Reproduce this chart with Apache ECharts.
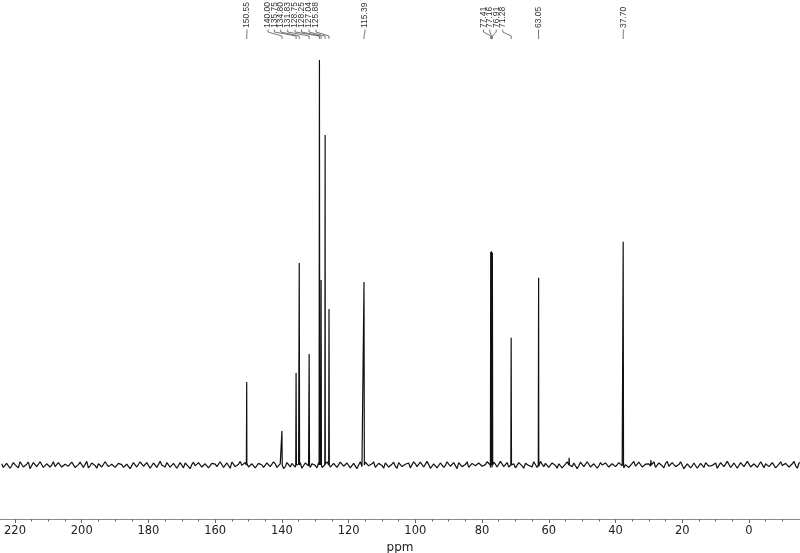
<!DOCTYPE html>
<html>
<head>
<meta charset="utf-8">
<title>13C NMR spectrum</title>
<script src="https://cdn.jsdelivr.net/npm/echarts@6/dist/echarts.min.js"></script>
<style>
  html, body { margin: 0; padding: 0; background: #fff; }
  #chart { width: 800px; height: 553px; }
</style>
</head>
<body>
<div id="chart"></div>
<script>
// peak shifts (ppm) and heights (tallest peak = 100)
var peakPpm = [150.55, 140.00, 135.75, 134.80, 131.83, 128.75, 128.25, 127.04, 125.88, 115.39,
  77.41, 77.16, 76.91, 71.28, 63.05, 53.9, 37.70, 29.4];
var peakHeight = [20.5, 8.4, 22.7, 49.9, 27.4, 100, 45.7, 81.5, 38.5, 45.2,
  52.6, 52.8, 52.4, 31.4, 46.2, 1.8, 55.1, 1.2];

// peaks that carry a label at the top
var labelPpm = [150.55, 140.00, 135.75, 134.80, 131.83, 128.75, 128.25, 127.04, 125.88, 115.39,
  77.41, 77.16, 76.91, 71.28, 63.05, 37.70];
var labelText = ["150.55", "140.00", "135.75", "134.80", "131.83", "128.75", "128.25", "127.04", "125.88", "115.39",
  "77.41", "77.16", "76.91", "71.28", "63.05", "37.70"];

// baseline noise: one value per whole ppm from 224 down to -15 ...
var noiseStart = 224;
var noise = [
  0.3,-0.5,0.6,-0.2,0.1,-0.7,0.4,-0.3,0.7,-0.6,0.2,-0.1,0.5,-0.8,0.3,0.0,-0.4,0.6,-0.5,0.2,
  -0.3,0.7,-0.6,0.1,0.4,-0.2,-0.7,0.5,-0.1,0.3,-0.5,0.8,-0.4,0.2,-0.6,0.4,0.1,-0.3,0.6,-0.7,
  0.2,-0.4,0.5,-0.1,0.3,-0.6,0.7,-0.2,0.0,-0.5,0.4,-0.3,0.6,-0.8,0.2,0.5,-0.4,0.1,-0.2,0.6,
  -0.5,0.3,-0.7,0.4,0.2,-0.3,0.5,-0.6,0.1,0.7,-0.4,0.2,-0.1,0.6,-0.5,0.3,-0.7,0.4,0.0,-0.3,
  0.5,-0.2,0.3,-0.6,0.7,-0.4,0.1,0.4,-0.5,0.2,-0.8,0.5,-0.2,0.3,-0.1,0.6,-0.6,0.2,0.4,-0.4,
  0.1,-0.5,0.6,-0.3,0.2,-0.7,0.5,0.0,-0.4,0.7,-0.2,0.3,-0.6,0.4,-0.1,0.5,-0.5,0.2,-0.3,0.6,
  -0.4,0.2,0.5,-0.6,0.3,-0.2,0.7,-0.5,0.1,-0.3,0.4,-0.7,0.6,-0.1,0.2,-0.5,0.3,0.6,-0.4,0.1,
  -0.6,0.4,-0.2,0.5,-0.3,0.1,0.7,-0.6,0.2,-0.4,0.5,0.0,-0.5,0.3,-0.7,0.6,-0.2,0.4,-0.1,-0.5,
  0.6,-0.3,0.2,0.4,-0.6,0.5,-0.1,0.3,-0.7,0.2,0.6,-0.4,0.1,-0.2,0.5,-0.6,0.4,-0.3,0.7,-0.2,
  0.0,0.5,-0.5,0.3,-0.4,0.6,-0.2,0.1,-0.6,0.4,-0.3,0.7,-0.5,0.2,0.3,-0.1,-0.6,0.5,-0.2,0.4,
  -0.3,0.6,-0.4,0.1,0.5,-0.7,0.3,-0.2,0.4,-0.5,0.2,0.6,-0.3,-0.1,0.5,-0.6,0.3,-0.4,0.7,-0.1,
  0.4,-0.6,0.2,-0.3,0.5,-0.2,0.6,-0.5,0.1,0.3,-0.4,0.6,-0.7,0.2,-0.1,0.4,-0.5,0.3,-0.2,0.5
];
// ... and one value per half ppm from 223.5 down to -15.5
var noiseHalf = [
  -0.6,0.4,-0.8,0.6,-0.3,0.8,-0.5,0.2,-0.9,0.6,-0.4,0.8,-0.6,0.3,-0.5,0.8,-0.2,0.6,-0.8,0.4,
  -0.7,0.5,-0.3,0.7,-0.6,0.9,-0.2,0.6,-0.8,0.5,-0.4,0.6,-0.8,0.3,-0.5,0.8,-0.6,0.2,-0.9,0.6,
  -0.5,0.8,-0.3,0.6,-0.8,0.5,-0.6,0.9,-0.2,0.6,-0.5,0.4,-0.8,0.6,-0.7,0.3,-0.9,0.7,-0.4,0.8,
  -0.8,0.3,-0.5,0.7,-0.4,0.8,-0.6,0.5,-0.8,0.2,-0.6,0.9,-0.5,0.4,-0.8,0.6,-0.3,0.8,-0.6,0.5,
  -0.4,0.8,-0.6,0.3,-0.9,0.6,-0.5,0.8,-0.2,0.6,-0.8,0.4,-0.6,0.5,-0.7,0.9,-0.3,0.8,-0.5,0.4,
  -0.6,0.7,-0.3,0.5,-0.7,0.4,-0.9,0.8,-0.5,0.3,-0.6,0.8,-0.4,0.6,-0.8,0.5,-0.2,0.7,-0.8,0.9,
  -0.5,0.3,-0.7,0.8,-0.4,0.7,-0.5,0.9,-0.8,0.3,-0.7,0.5,-0.6,0.8,-0.3,0.6,-0.9,0.4,-0.5,0.8,
  -0.8,0.4,-0.6,0.5,-0.3,0.8,-0.6,0.7,-0.5,0.9,-0.4,0.6,-0.8,0.3,-0.6,0.5,-0.8,0.6,-0.4,0.8,
  -0.6,0.9,-0.4,0.6,-0.5,0.3,-0.8,0.6,-0.7,0.8,-0.3,0.5,-0.9,0.7,-0.4,0.8,-0.5,0.3,-0.8,0.6,
  -0.4,0.5,-0.8,0.7,-0.6,0.3,-0.7,0.5,-0.6,0.9,-0.4,0.7,-0.5,0.6,-0.3,0.8,-0.6,0.5,-0.7,0.9,
  -0.5,0.4,-0.6,0.8,-0.9,0.3,-0.7,0.5,-0.8,0.4,-0.6,0.8,-0.5,0.3,-0.8,0.6,-0.4,0.9,-0.6,0.5,
  -0.8,0.6,-0.4,0.9,-0.5,0.3,-0.6,0.8,-0.7,0.5,-0.4,0.6,-0.7,0.8,-0.3,0.7,-0.5,0.9,-0.8,0.6
];

var majorTicks = [220, 200, 180, 160, 140, 120, 100, 80, 60, 40, 20, 0];
var minorTicks = [];
for (var t = -10; t <= 220; t += 5) minorTicks.push(t);

// layout: x pixel of each label column (spread out over crowded peaks)
var labelX = [247, 268, 274.3, 280.7, 287.7, 295, 301.5, 309, 316, 365,
  483.5, 489.8, 496.2, 502.8, 538.5, 623.3];

// build the trace: noise samples plus a narrow spike for every peak
var trace = [];
noise.forEach(function (v, i) { trace.push([noiseStart - i, v]); });
noiseHalf.forEach(function (v, i) { trace.push([noiseStart - 0.5 - i, v]); });
peakPpm.forEach(function (p, i) {
  trace.push([p + 0.1, 0], [p, peakHeight[i]], [p - 0.1, 0]);
});
trace.sort(function (a, b) { return b[0] - a[0]; });

var myChart = echarts.init(document.getElementById("chart"));
myChart.setOption({
  animation: false,
  grid: { left: 0, right: 0, top: 0, bottom: 34, containLabel: false, outerBoundsMode: "none" },
  xAxis: [
    {
      type: "value",
      inverse: true,
      min: -15.3,
      max: 224.5,
      name: "ppm",
      nameLocation: "middle",
      nameGap: 20,
      nameTextStyle: { color: "#222", fontSize: 12, fontFamily: "DejaVu Sans" },
      splitLine: { show: false },
      axisLine: { onZero: false, lineStyle: { color: "#8a8a8a", width: 1 } },
      axisTick: { customValues: majorTicks, length: 4, lineStyle: { color: "#666" } },
      axisLabel: {
        customValues: majorTicks,
        margin: 6,
        color: "#222",
        fontSize: 11.5,
        fontFamily: "DejaVu Sans"
      }
    },
    {
      type: "value",
      inverse: true,
      min: -15.3,
      max: 224.5,
      position: "bottom",
      splitLine: { show: false },
      axisLine: { show: false, onZero: false },
      axisTick: { customValues: minorTicks, length: 2.5, lineStyle: { color: "#666" } },
      axisLabel: { show: false }
    }
  ],
  yAxis: {
    type: "value",
    min: -13.33,
    max: 114.8,
    show: false,
    splitLine: { show: false }
  },
  series: [
    {
      type: "line",
      data: trace,
      showSymbol: false,
      sampling: null,
      lineStyle: { color: "#111", width: 1.2 }
    }
  ]
});

// peak labels with leader lines
var graphics = [];
labelPpm.forEach(function (p, i) {
  var px = myChart.convertToPixel({ xAxisIndex: 0 }, p);
  var lx = labelX[i];
  graphics.push({
    type: "text",
    x: lx,
    y: 28,
    rotation: Math.PI / 2,
    style: {
      text: labelText[i],
      fill: "#333",
      fontSize: 8.5,
      fontFamily: "Liberation Sans",
      align: "left",
      verticalAlign: "middle"
    }
  });
  graphics.push({
    type: "polyline",
    shape: { points: [[lx, 29.5], [lx, 32], [px, 36], [px, 39]] },
    style: { stroke: "#555", fill: null, lineWidth: 0.8 }
  });
});
myChart.setOption({ graphic: graphics });
</script>
</body>
</html>
